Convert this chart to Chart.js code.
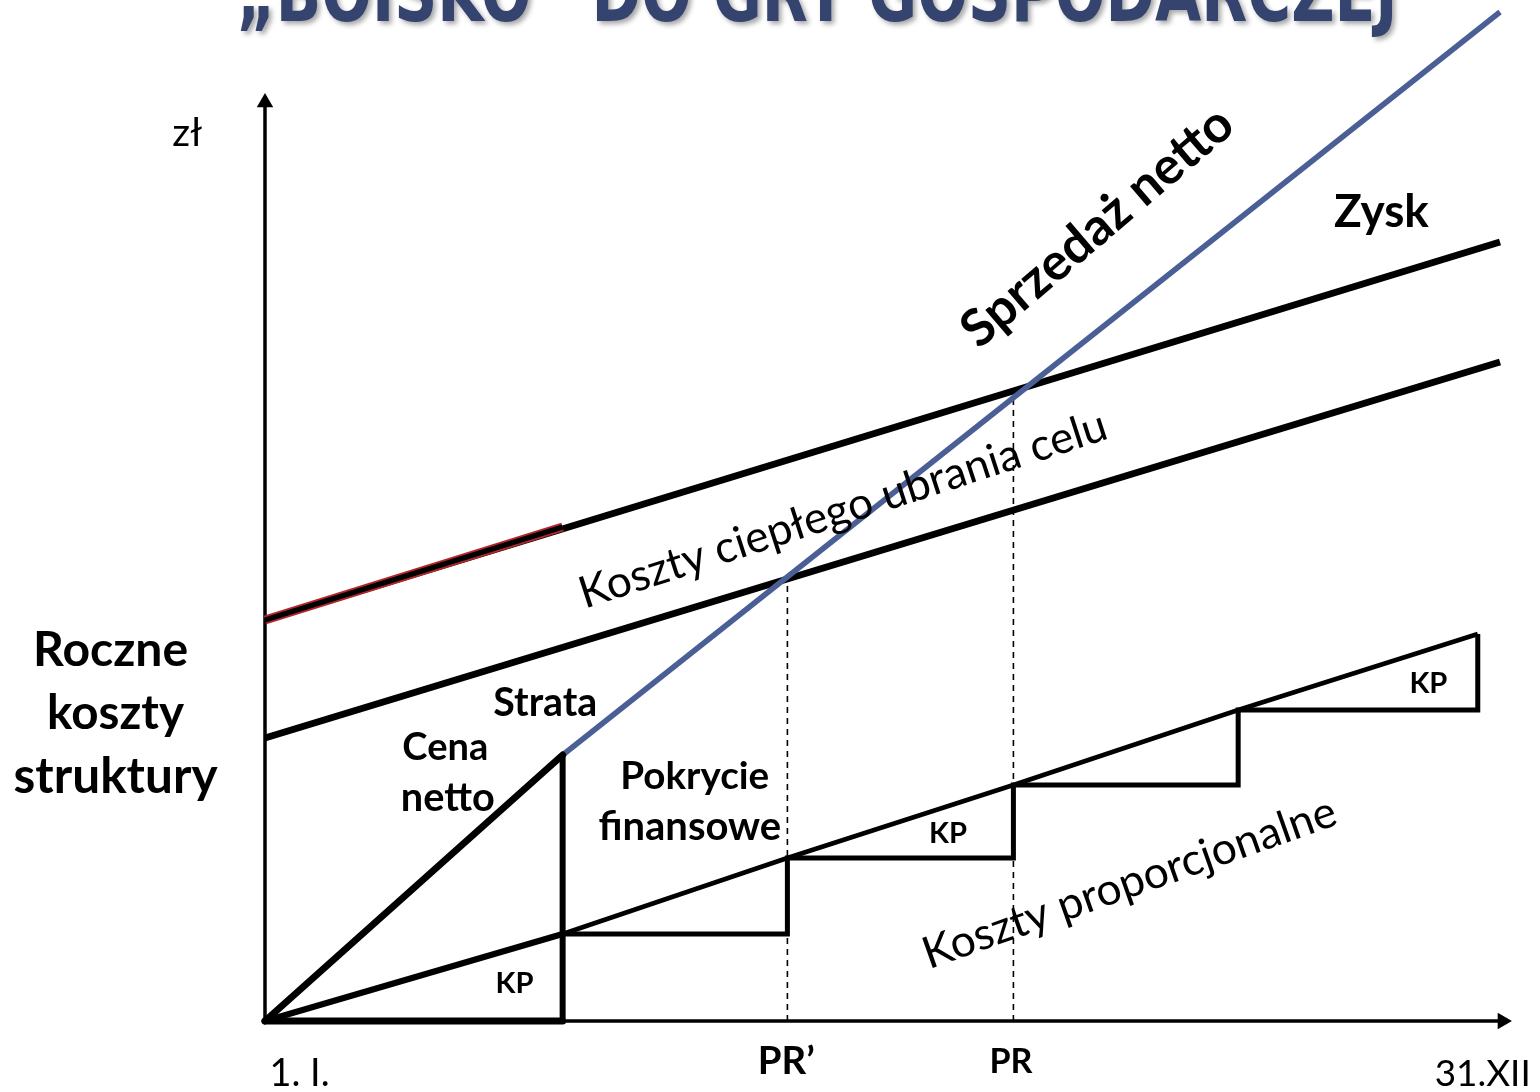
<!DOCTYPE html>
<html lang="pl">
<head>
<meta charset="utf-8">
<title>Boisko do gry gospodarczej</title>
<script src="https://cdn.jsdelivr.net/npm/chart.js@4/dist/chart.umd.min.js"></script>
<style>
  html, body { margin: 0; padding: 0; background: #fff; overflow: hidden; }
  #wrap { width: 1540px; height: 1092px; }
</style>
</head>
<body>
<div id="wrap"><canvas id="boisko" width="1540" height="1092"></canvas></div>
<script>
// x: 0..100 = rok (1.I. -> 31.XII), y: zł (jednostki umowne)

// Sprzedaż netto (cena netto do progu, potem linia sprzedaży)
const salesX = [0, 24.1, 100];
const salesY = [0, 26.6, 100.9];

// górna linia (Zysk) i dolna linia (koszty struktury / ciepłego ubrania)
const profitX = [0, 24.1, 100];
const profitY = [40.1, 49.4, 77.9];
const fixedX = [0, 100];
const fixedY = [28.3, 65.9];

// koszty proporcjonalne - schodki KP
const kpX = [0, 24.1, 42.3, 60.6, 78.8, 98.2];
const kpY = [0, 8.7, 16.3, 23.6, 31.1, 38.7];

// progi rentowności PR' i PR
const breakX = [42.3, 60.6];
const breakY = [44.1, 63.6];

// końce osi (środki grotów)
const axisEndX = 100.2;
const axisEndY = 91.85;

const TITLE = '\u201EBOISKO\u201D DO GRY GOSPODARCZEJ';
const BODY_FONT = 'Lato, "Open Sans", "DejaVu Sans", sans-serif';

const pts = (xs, ys) => xs.map((x, i) => ({ x, y: ys[i] }));

const BLACK = '#000000';
const BLUE = '#4A5F96';
const RED = '#B3262B';

const line = (data, width, color, order, extra) => Object.assign({
  data,
  showLine: true,
  borderColor: color,
  backgroundColor: color,
  borderWidth: width,
  pointRadius: 0,
  fill: false,
  tension: 0,
  borderCapStyle: 'butt',
  borderJoinStyle: 'miter',
  order
}, extra || {});

const datasets = [
  // osie
  line([{ x: 0, y: 0 }, { x: 0, y: axisEndY }], 3.5, BLACK, 5,
    { pointRadius: [0, 9.5], pointStyle: 'triangle', pointRotation: 0, pointBorderWidth: 0 }),
  line([{ x: 0, y: 0 }, { x: axisEndX, y: 0 }], 3.5, BLACK, 5,
    { pointRadius: [0, 9.5], pointStyle: 'triangle', pointRotation: 90, pointBorderWidth: 0 }),

  // pole "cena netto / KP" pogrubione
  line([{ x: kpX[0], y: 0 }, { x: kpX[1], y: 0 }], 7, BLACK, 3, { borderCapStyle: 'round' }),
  line([{ x: salesX[1], y: 0 }, { x: salesX[1], y: salesY[1] }], 6, BLACK, 3),
  line(pts(salesX.slice(0, 2), salesY.slice(0, 2)), 7, BLACK, 3, { borderCapStyle: 'round' }),
  line(pts(kpX.slice(0, 2), kpY.slice(0, 2)), 6, BLACK, 3, { borderCapStyle: 'round' }),

  // sprzedaż netto
  line(pts(salesX.slice(1), salesY.slice(1)), 5.5, BLUE, 4),

  // zysk (górna) z czerwonym odcinkiem
  line(pts(profitX.slice(0, 2), profitY.slice(0, 2)), 5, BLACK, 1),
  line(pts(profitX.slice(0, 2), profitY.slice(0, 2)), 9, RED, 2),
  line(pts([profitX[0], profitX[2]], [profitY[0], profitY[2]]), 7, BLACK, 6),

  // koszty stałe (dolna)
  line(pts(fixedX, fixedY), 7, BLACK, 6),

  // koszty proporcjonalne: ukośna + schodki
  line(pts(kpX.slice(1), kpY.slice(1)), 4.5, BLACK, 7),
  line(pts(kpX.slice(1), kpY.slice(1)), 5, BLACK, 7, { stepped: 'before' }),

  // progi rentowności - przerywane
  ...breakX.map((bx, i) => line([{ x: bx, y: 0 }, { x: bx, y: breakY[i] }], 1.6, BLACK, 8,
    { borderDash: [6, 5] }))
];

// opisy: pozycje w jednostkach osi, w = docelowa szerokość tekstu w px
const labels = [
  { t: 'zł', x: -6.3, y: 88.8, w: 30, bold: false },
  { t: 'Roczne', x: -12.5, y: 37.1, w: 155, bold: true },
  { t: 'koszty', x: -12.1, y: 30.7, w: 137, bold: true },
  { t: 'struktury', x: -12.1, y: 24.4, w: 204, bold: true },
  { t: 'Sprzedaż netto', x: 67.4, y: 79.4, w: 340, bold: true, rot: -40.5 },
  { t: 'Zysk', x: 90.4, y: 80.9, w: 95, bold: true },
  { t: 'Koszty ciepłego ubrania celu', x: 46.8, y: 51.1, w: 552, bold: false, rot: -18.0 },
  { t: 'Strata', x: 22.7, y: 31.8, w: 104, bold: true },
  { t: 'Cena', x: 14.6, y: 27.3, w: 86, bold: true },
  { t: 'netto', x: 14.8, y: 22.3, w: 94, bold: true },
  { t: 'Pokrycie', x: 34.8, y: 24.4, w: 149, bold: true },
  { t: 'finansowe', x: 34.4, y: 19.4, w: 183, bold: true },
  { t: 'KP', x: 20.2, y: 3.7, w: 38, bold: true },
  { t: 'KP', x: 55.3, y: 18.7, w: 38, bold: true },
  { t: 'KP', x: 94.2, y: 33.7, w: 38, bold: true },
  { t: 'Koszty proporcjonalne', x: 70.0, y: 13.8, w: 436, bold: false, rot: -19.5 },
  { t: '1. I.', x: 2.8, y: -5.3, w: 60, bold: false },
  { t: 'PR\u2019', x: 42.2, y: -4.1, w: 57, bold: true },
  { t: 'PR', x: 60.4, y: -4.1, w: 43, bold: true },
  { t: '31.XII', x: 98.6, y: -5.3, w: 96, bold: false }
];

const annotations = {
  id: 'annotations',
  afterDatasetsDraw(chart) {
    const { ctx, scales } = chart;
    ctx.save();
    ctx.fillStyle = '#000';
    ctx.textAlign = 'center';
    ctx.textBaseline = 'middle';
    labels.forEach(l => {
      const weight = l.bold ? 'bold ' : '';
      ctx.font = weight + '40px ' + BODY_FONT;
      const size = 40 * l.w / ctx.measureText(l.t).width;
      ctx.font = weight + size.toFixed(1) + 'px ' + BODY_FONT;
      ctx.save();
      ctx.translate(scales.x.getPixelForValue(l.x), scales.y.getPixelForValue(l.y));
      if (l.rot) ctx.rotate(l.rot * Math.PI / 180);
      ctx.fillText(l.t, 0, 0);
      ctx.restore();
    });

    // tytuł slajdu - ucięty u góry
    const tf = '"Liberation Sans Narrow", "DejaVu Sans Condensed", "Arial Narrow", sans-serif';
    ctx.font = 'bold 80px ' + tf;
    const sx = 1161 / ctx.measureText(TITLE).width;
    ctx.save();
    ctx.translate(scales.x.getPixelForValue(44.7), scales.y.getPixelForValue(100.0));
    ctx.scale(sx, 1);
    ctx.textBaseline = 'alphabetic';
    ctx.shadowColor = 'rgba(0,0,0,0.35)';
    ctx.shadowBlur = 5;
    ctx.shadowOffsetX = 3;
    ctx.shadowOffsetY = 3;
    ctx.fillStyle = '#34446F';
    ctx.fillText(TITLE, 0, 0);
    ctx.restore();
    ctx.restore();
  }
};

new Chart(document.getElementById('boisko'), {
  type: 'scatter',
  data: { datasets },
  options: {
    responsive: false,
    animation: false,
    layout: { padding: 0, autoPadding: false },
    plugins: { legend: { display: false }, tooltip: { enabled: false } },
    scales: {
      x: { type: 'linear', display: false, min: -21.457, max: 103.239 },
      y: { type: 'linear', display: false, min: -7.1, max: 102.1 }
    }
  },
  plugins: [annotations]
});
</script>
</body>
</html>
